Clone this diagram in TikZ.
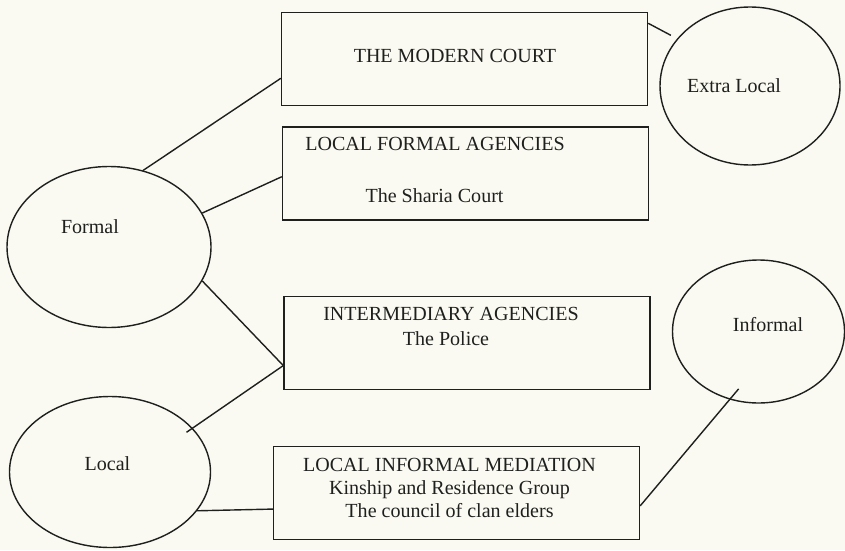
\documentclass[tikz,border=0pt]{standalone}
\usepackage{fontspec}
\setmainfont{Liberation Serif}
\definecolor{paper}{RGB}{251,250,242}
\definecolor{ink}{RGB}{30,32,30}
\usepackage{tikz}
\usetikzlibrary{shapes.geometric}

\begin{document}
\begin{tikzpicture}[
    agency/.style={draw=ink, line width=0.8pt, minimum width=7.32cm,
      minimum height=1.86cm, inner sep=0pt},
    realm/.style={draw=ink, line width=0.8pt, ellipse, inner sep=0pt},
    lbl/.style={font=\fontsize{11.4}{13.7}\selectfont, text=ink,
      inner sep=0pt, anchor=base},
    tie/.style={draw=ink, line width=0.8pt},
  ]
    \fill[paper] (0,0) rectangle (16.9,-11);
    \useasboundingbox (0,0) rectangle (16.9,-11);
    % the four agencies
    \node[agency] (court) at (9.29, -1.18) {};
    \node[agency] (sharia) at (9.31, -3.47) {};
    \node[agency] (police) at (9.34, -6.86) {};
    \node[agency] (elders) at (9.13, -9.86) {};
    \node[lbl] (court-t) at (9.10, -1.26) {THE MODERN COURT};
    \node[lbl] (sharia-t1) at (8.70, -3.00) {LOCAL FORMAL AGENCIES};
    \node[lbl] (sharia-t2) at (8.69, -4.04) {The Sharia Court};
    \node[lbl] (police-t1) at (9.02, -6.40) {INTERMEDIARY AGENCIES};
    \node[lbl] (police-t2) at (8.92, -6.90) {The Police};
    \node[lbl] (elders-t1) at (8.99, -9.42) {LOCAL INFORMAL MEDIATION};
    \node[lbl] (elders-t2) at ([yshift=-0.46cm]elders-t1.base) {Kinship and Residence Group};
    \node[lbl] (elders-t3) at ([yshift=-0.46cm]elders-t2.base) {The council of clan elders};
    % the four levels
    \node[realm, minimum width=4.08cm, minimum height=3.22cm] (formal) at (2.18, -4.94) {};
    \node[realm, minimum width=4.02cm, minimum height=3.02cm] (local) at (2.20, -9.44) {};
    \node[realm, minimum width=3.60cm, minimum height=3.16cm] (extra) at (15.00, -1.72) {};
    \node[realm, minimum width=3.44cm, minimum height=2.86cm] (informal) at (15.17, -6.63) {};
    \node[lbl] (formal-t) at (1.80, -4.66) {Formal};
    \node[lbl] (local-t) at (2.15, -9.40) {Local};
    \node[lbl] (extra-t) at (14.68, -1.84) {Extra Local};
    \node[lbl] (informal-t) at (15.36, -6.62) {Informal};
    % links
    \draw[tie] (formal.66) -- (court.186);
    \draw[tie] (formal.20) -- (sharia.181);
    \draw[tie] (formal.-20) -- (police.187);
    \draw[tie, shorten <=-0.15cm] (local.28) -- (police.187);
    \draw[tie] (local.-24) -- (elders.185);
    \draw[tie, shorten <=-0.28cm] (informal.247) -- (elders.-4);
    \draw[tie, shorten >=0.14cm] (court.11) -- (extra.147);
  \end{tikzpicture}
\end{document}
